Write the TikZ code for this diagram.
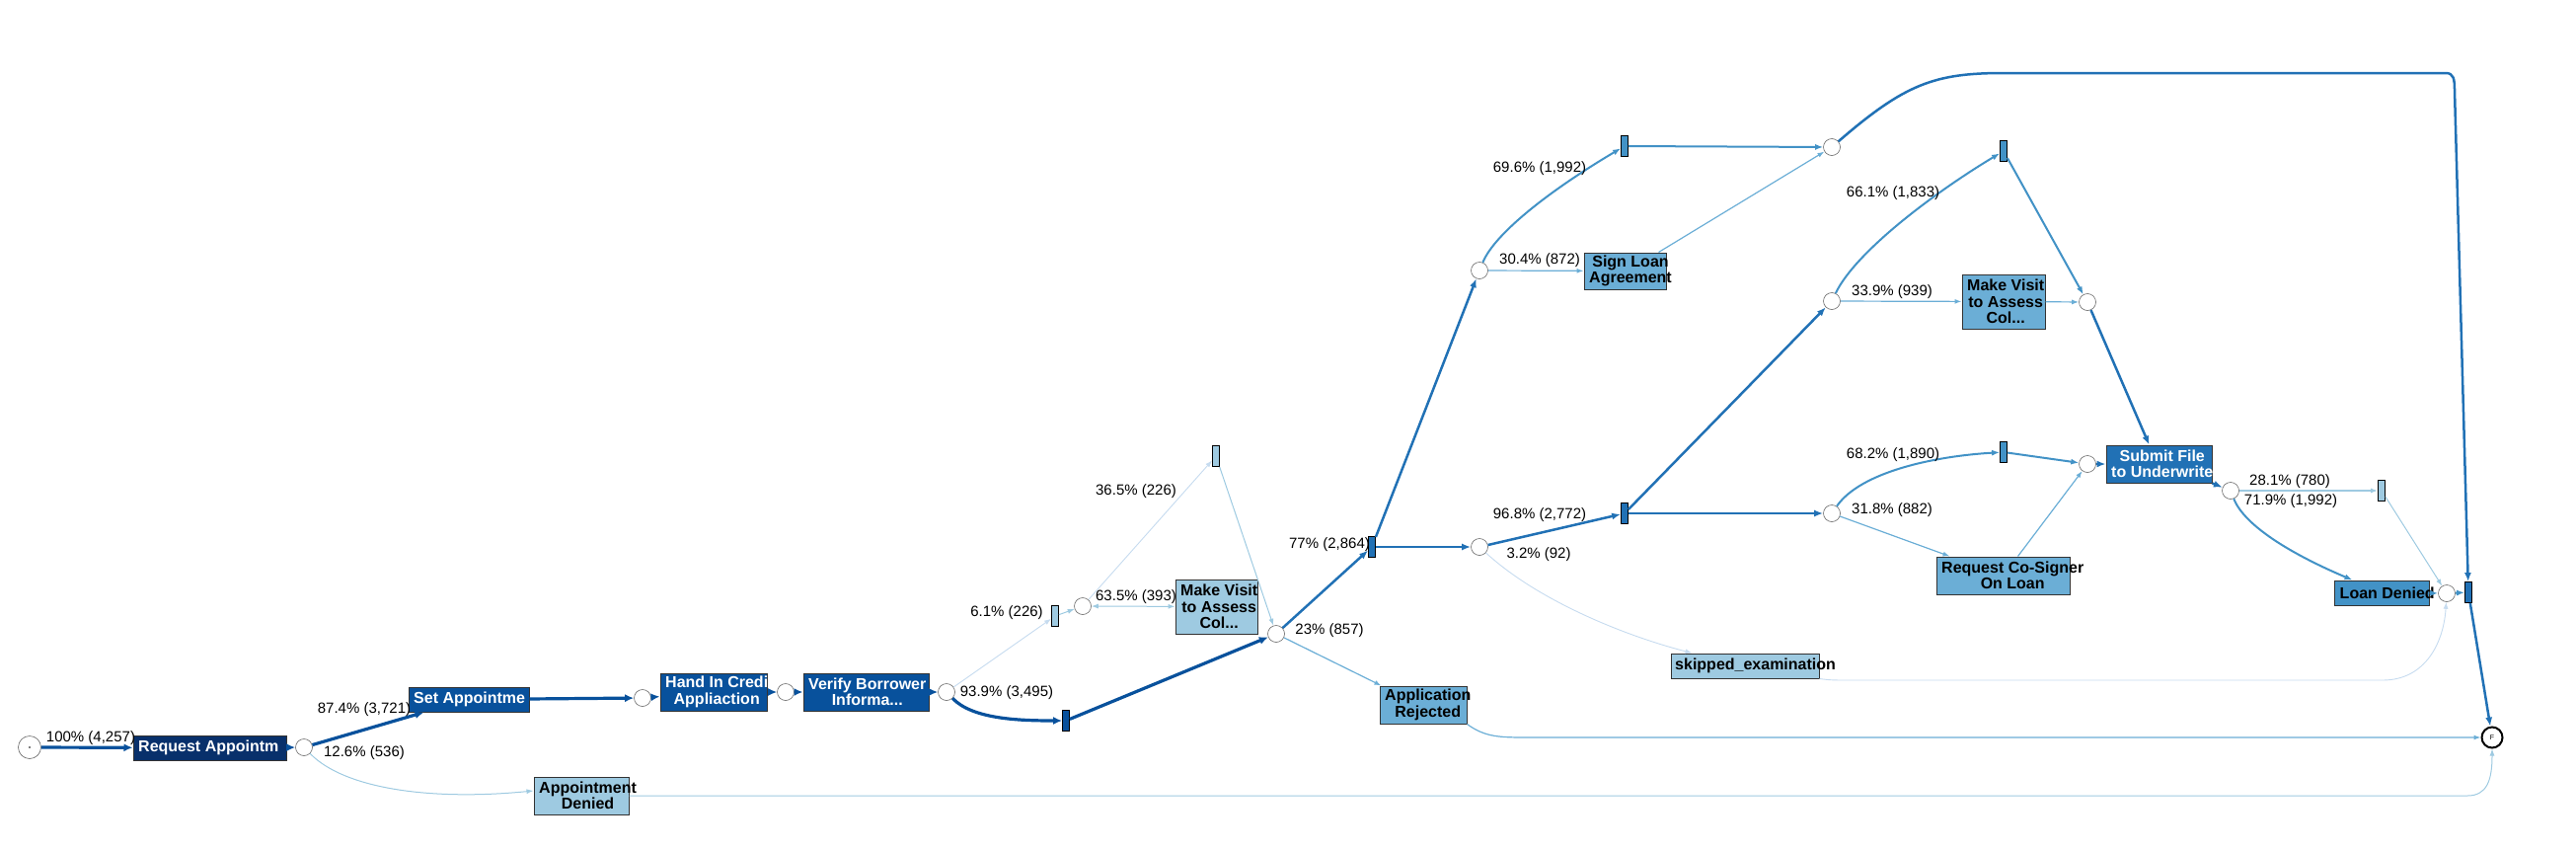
\documentclass[tikz,border=0pt]{standalone}
\usepackage{fontspec}
\setmainfont{Liberation Sans}
\usetikzlibrary{arrows.meta}
\definecolor{c1}{HTML}{08306B}
\definecolor{c2}{HTML}{08519C}
\definecolor{c3}{HTML}{2171B5}
\definecolor{c4}{HTML}{4292C6}
\definecolor{c5}{HTML}{6BAED6}
\definecolor{c6}{HTML}{9ECAE1}
\definecolor{c7}{HTML}{C6DBEF}
\begin{document}
\begin{tikzpicture}[x=1pt,y=-1pt,
  place/.style={circle,draw=black!60,line width=0.6pt,fill=white,minimum size=17pt,inner sep=0pt},
  bar/.style={rectangle,draw=black,line width=0.8pt,minimum width=7pt,minimum height=21pt,inner sep=0pt},
  tbox/.style={rectangle,draw=black!80,line width=1pt,inner sep=0pt},
  btxt/.style={anchor=west,inner sep=0pt,align=center,font=\fontsize{16}{16.5}\selectfont\bfseries},
  lbl/.style={inner sep=0pt,font=\fontsize{15}{17}\selectfont},
  ea/.style={draw=c2,line width=3.2pt,-{Latex[length=9pt,width=8pt]}},
  eb/.style={draw=c3,line width=2.5pt,-{Latex[length=9pt,width=7pt]}},
  ec/.style={draw=c4,line width=2pt,-{Latex[length=8pt,width=6pt]}},
  ed/.style={draw=c5,line width=1.2pt,-{Latex[length=7pt,width=5pt]}},
  ee/.style={draw=c6,line width=1pt,-{Latex[length=7pt,width=5pt]}},
  ef/.style={draw=c7,line width=0.9pt,-{Latex[length=7pt,width=5pt]}}
]
\useasboundingbox (0,0) rectangle (2610,860);

% activity boxes
\node[tbox,fill=c1,minimum width=155pt,minimum height=25pt] (ra) at (212.5,757.5) {};
\node[btxt,text=white] (rat) at ([xshift=5.5pt]ra.west) {Request Appointm};
\node[tbox,fill=c2,minimum width=122pt,minimum height=25pt] (sa) at (475,708.5) {};
\node[btxt,text=white] (sat) at ([xshift=5.5pt]sa.west) {Set Appointme};
\node[tbox,fill=c2,minimum width=108pt,minimum height=38pt] (hc) at (723,701) {};
\node[btxt,text=white] (hct) at ([xshift=5.5pt]hc.west) {Hand In Credi\\Appliaction};
\node[tbox,fill=c2,minimum width=127pt,minimum height=38pt] (vb) at (877.5,701) {};
\node[btxt,text=white] (vbt) at ([xshift=5.5pt]vb.west) {Verify Borrower\\Informa...};
\node[tbox,fill=c6,minimum width=96pt,minimum height=38pt] (ad) at (589,806) {};
\node[btxt] (adt) at ([xshift=5.5pt]ad.west) {Appointment\\Denied};
\node[tbox,fill=c6,minimum width=83pt,minimum height=55pt] (mv1) at (1232.5,614.5) {};
\node[btxt] (mv1t) at ([xshift=5.5pt]mv1.west) {Make Visit\\to Assess\\Col...};
\node[tbox,fill=c5,minimum width=88pt,minimum height=38pt] (ar) at (1442,714) {};
\node[btxt] (art) at ([xshift=5.5pt]ar.west) {Application\\Rejected};
\node[tbox,fill=c5,minimum width=83pt,minimum height=37pt] (sl) at (1646.5,274.5) {};
\node[btxt] (slt) at ([xshift=5.5pt]sl.west) {Sign Loan\\Agreement};
\node[tbox,fill=c5,minimum width=84pt,minimum height=55pt] (mv2) at (2030,305.5) {};
\node[btxt] (mv2t) at ([xshift=5.5pt]mv2.west) {Make Visit\\to Assess\\Col...};
\node[tbox,fill=c6,minimum width=150pt,minimum height=25pt] (se) at (1768,674.5) {};
\node[btxt] (set) at ([xshift=4.5pt]se.west) {skipped\_examination};
\node[tbox,fill=c5,minimum width=135pt,minimum height=38pt] (rc) at (2029.5,583) {};
\node[btxt] (rct) at ([xshift=5.5pt]rc.west) {Request Co-Signer\\On Loan};
\node[tbox,fill=c3,minimum width=107pt,minimum height=38pt] (sf) at (2187.5,470) {};
\node[btxt,text=white] (sft) at ([xshift=5.5pt]sf.west) {Submit File\\to Underwrite};
\node[tbox,fill=c4,minimum width=96pt,minimum height=25pt] (ld) at (2413,600.5) {};
\node[btxt] (ldt) at ([xshift=6pt]ld.west) {Loan Denied};

% places
\node[place,minimum size=23pt] (ps) at (30,757) {};
\fill[black] (ps.center) circle (0.9pt);
\node[place] (p1) at (308,757) {};
\node[place] (p2) at (651,707) {};
\node[place] (p3) at (796,701) {};
\node[place] (p4) at (959,701) {};
\node[place] (p6) at (1097,614) {};
\node[place] (p5) at (1293,642) {};
\node[place] (p7) at (1499,274) {};
\node[place] (p8) at (1499,554) {};
\node[place] (p9) at (1856,149) {};
\node[place] (p10) at (1856,305) {};
\node[place] (p11) at (1856,520) {};
\node[place] (p12) at (2115,306) {};
\node[place] (p13) at (2115,470) {};
\node[place] (p14) at (2260,497) {};
\node[place] (p15) at (2479,601) {};
\node[circle,draw=black,line width=2pt,fill=white,minimum size=21pt,inner sep=0pt,font=\fontsize{7}{7}\selectfont] (pf) at (2525,747) {F};

% silent transitions
\node[bar,fill=c2] (b1) at (1080,730) {};
\node[bar,fill=c6] (b2) at (1069,624) {};
\node[bar,fill=c6] (b3) at (1232,462) {};
\node[bar,fill=c3] (b4) at (1390,554) {};
\node[bar,fill=c4] (b5) at (1646,148) {};
\node[bar,fill=c3] (b6) at (1646,520) {};
\node[bar,fill=c4] (b7) at (2030,153) {};
\node[bar,fill=c4] (b8) at (2030,458) {};
\node[bar,fill=c6] (b9) at (2413,497) {};
\node[bar,fill=c3] (b10) at (2501,600) {};

% arcs
\draw[ea] (ps) -- (ra);
\draw[ea] (ra) -- (p1);
\draw[ea] (p1) -- ([xshift=16pt]sa.south west);
\draw[ee] (p1) .. controls (350,800) and (440,811) .. ([yshift=5pt]ad.west);
\draw[ea] (sa) -- (p2);
\draw[ea] (p2) -- (hc);
\draw[ea] (hc) -- (p3);
\draw[ea] (p3) -- (vb);
\draw[ea] (vb) -- (p4);
\draw[ea] (p4) .. controls (985,728) and (1030,730) .. (b1);
\draw[ea] (b1) -- (p5);
\draw[ef] (p4) -- (b2);
\draw[ee] (b2) -- (p6);
\draw[ef] (p6) -- (b3);
\draw[ee,{Latex[length=7pt,width=5pt]}-{Latex[length=7pt,width=5pt]}] (p6) -- (mv1);
\draw[ee] (b3) -- (p5);
\draw[eb] (p5) -- (b4);
\draw[ed] (p5) -- ([xshift=2pt]ar.north west);
\draw[eb] (b4) -- (p7);
\draw[eb] (b4) -- (p8);
\draw[ec] (p7) .. controls (1515,235) and (1575,190) .. (b5);
\draw[ed] (p7) -- (sl);
\draw[ec] (b5) -- (p9);
\draw[ed] ([xshift=-8pt]sl.north east) -- (p9);
\draw[eb] (p9) .. controls (1930,85) and (1960,74) .. (2030,74) -- (2478,74) .. controls (2486,74) and (2487,80) .. (2487,92) -- (b10);
\draw[eb] (p8) -- (b6);
\draw[ef] (p8) .. controls (1560,610) and (1650,645) .. ([xshift=22pt]se.north west);
\draw[eb] (b6) -- (p10);
\draw[eb] (b6) -- (p11);
\draw[ec] (p10) .. controls (1880,255) and (1960,195) .. (b7);
\draw[ed] (p10) -- (mv2);
\draw[ed] (mv2) -- (p12);
\draw[ec] (b7) -- (p12);
\draw[eb] (p12) -- ([xshift=44pt]sf.north west);
\draw[ec] (p11) .. controls (1885,478) and (1960,462) .. (b8);
\draw[ed] (p11) -- ([xshift=14pt]rc.north west);
\draw[ec] (b8) -- (p13);
\draw[ed] ([xshift=83pt]rc.north west) -- (p13);
\draw[eb] (p13) -- (sf);
\draw[eb] (sf.south east) -- (p14);
\draw[ee,line width=1.6pt] (p14) -- (b9);
\draw[ec] (p14) .. controls (2275,535) and (2330,565) .. ([xshift=19pt]ld.north west);
\draw[ee] (b9) -- (p15);
\draw[ec] (ld) -- (p15);
\draw[ef] (se.south east) .. controls (1855,689) .. (1880,689) -- (2414,689) .. controls (2458,689) and (2476,650) .. (p15);
\draw[ec] (p15) -- (b10);
\draw[eb] (b10) -- (pf);
\draw[ed] (ar.south east) .. controls (1505,747) and (1520,747) .. (1550,747) -- (pf);
\draw[ee] (ad.east) -- (2500,806) .. controls (2520,806) and (2525,790) .. (pf);

% labels
\node[lbl] (l1) at (92,748) {100\% (4,257)};
\node[lbl] (l2) at (369,719) {87.4\% (3,721)};
\node[lbl] (l3) at (369,763) {12.6\% (536)};
\node[lbl] (l4) at (1020,702) {93.9\% (3,495)};
\node[lbl] (l5) at (1020,621) {6.1\% (226)};
\node[lbl] (l6) at (1151,498) {36.5\% (226)};
\node[lbl] (l7) at (1151,605) {63.5\% (393)};
\node[lbl] (l8) at (1347,639) {23\% (857)};
\node[lbl] (l9) at (1347,552) {77\% (2,864)};
\node[lbl] (l10) at (1560,171) {69.6\% (1,992)};
\node[lbl] (l11) at (1560,264) {30.4\% (872)};
\node[lbl] (l12) at (1560,522) {96.8\% (2,772)};
\node[lbl] (l13) at (1559,562) {3.2\% (92)};
\node[lbl] (l14) at (1918,196) {66.1\% (1,833)};
\node[lbl] (l15) at (1917,296) {33.9\% (939)};
\node[lbl] (l16) at (1918,461) {68.2\% (1,890)};
\node[lbl] (l17) at (1917,517) {31.8\% (882)};
\node[lbl] (l18) at (2320,488) {28.1\% (780)};
\node[lbl] (l19) at (2321,508) {71.9\% (1,992)};
\end{tikzpicture}
\end{document}
